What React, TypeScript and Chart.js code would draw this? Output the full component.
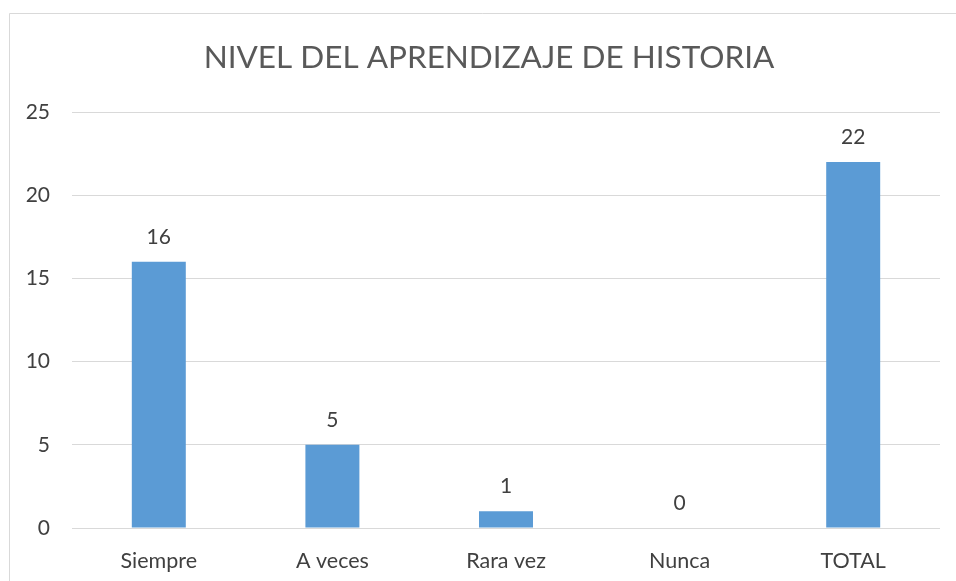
import React, { useEffect, useRef } from "react";
import { Chart, registerables } from "chart.js";

Chart.register(...registerables);

const categories = ["Siempre", "A veces", "Rara vez", "Nunca", "TOTAL"];
const values = [16, 5, 1, 0, 22];
const titleText = "NIVEL DEL APRENDIZAJE DE HISTORIA";
const yMin = 0;
const yMax = 25;
const yStep = 5;

const FONT = "Lato, 'Open Sans', sans-serif";

const frame = {
  id: "frame",
  beforeDraw(chart: any) {
    const ctx = chart.ctx;
    ctx.save();
    ctx.fillStyle = "#ffffff";
    ctx.fillRect(0, 0, chart.width, chart.height);
    ctx.strokeStyle = "#d9d9d9";
    ctx.lineWidth = 1;
    ctx.beginPath();
    ctx.moveTo(9.5, chart.height);
    ctx.lineTo(9.5, 13.5);
    ctx.lineTo(chart.width, 13.5);
    ctx.stroke();
    ctx.restore();
  },
  afterDraw(chart: any) {
    const ctx = chart.ctx;
    ctx.save();
    ctx.fillStyle = "#595959";
    ctx.font = `31.5px ${FONT}`;
    ctx.textAlign = "center";
    ctx.textBaseline = "middle";
    ctx.fillText(titleText, 489, 58);
    ctx.restore();
  },
};

const valueLabels = {
  id: "valueLabels",
  afterDatasetsDraw(chart: any) {
    const ctx = chart.ctx;
    const meta = chart.getDatasetMeta(0);
    ctx.save();
    ctx.fillStyle = "#404040";
    ctx.font = `21px ${FONT}`;
    ctx.textAlign = "center";
    ctx.textBaseline = "middle";
    meta.data.forEach((bar: any, i: number) => {
      ctx.fillText(String(values[i]), bar.x, bar.y - 25);
    });
    ctx.restore();
  },
};

export default function App() {
  const ref = useRef<HTMLCanvasElement>(null);
  useEffect(() => {
    if (!ref.current) return;
    const chart = new Chart(ref.current, {
      type: "bar",
      data: {
        labels: categories,
        datasets: [
          {
            data: values,
            backgroundColor: "#5b9bd5",
            categoryPercentage: 1,
            barPercentage: 0.311,
          },
        ],
      },
      options: {
        animation: false,
        responsive: false,
        maintainAspectRatio: false,
        layout: { padding: { left: 0, right: 16, top: 112, bottom: 0 } },
        plugins: {
          legend: { display: false },
          tooltip: { enabled: false },
          title: { display: false },
        },
        scales: {
          x: {
            grid: { display: false },
            border: { display: false },
            ticks: { color: "#404040", font: { family: FONT, size: 21.5 }, padding: 12 },
            afterFit: (s: any) => {
              s.height = 53;
            },
          },
          y: {
            min: yMin,
            max: yMax,
            grid: { color: "#d9d9d9", drawTicks: false, lineWidth: 1 },
            border: { display: false },
            ticks: {
              stepSize: yStep,
              color: "#404040",
              font: { family: FONT, size: 21 },
              padding: 22,
            },
            afterFit: (s: any) => {
              s.width = 72;
            },
          },
        },
      },
      plugins: [frame, valueLabels],
    });
    return () => chart.destroy();
  }, []);
  return (
    <div style={{ position: "fixed", left: 0, top: 0, width: 956, height: 581 }}>
      <canvas ref={ref} width={956} height={581} style={{ display: "block" }} />
    </div>
  );
}
